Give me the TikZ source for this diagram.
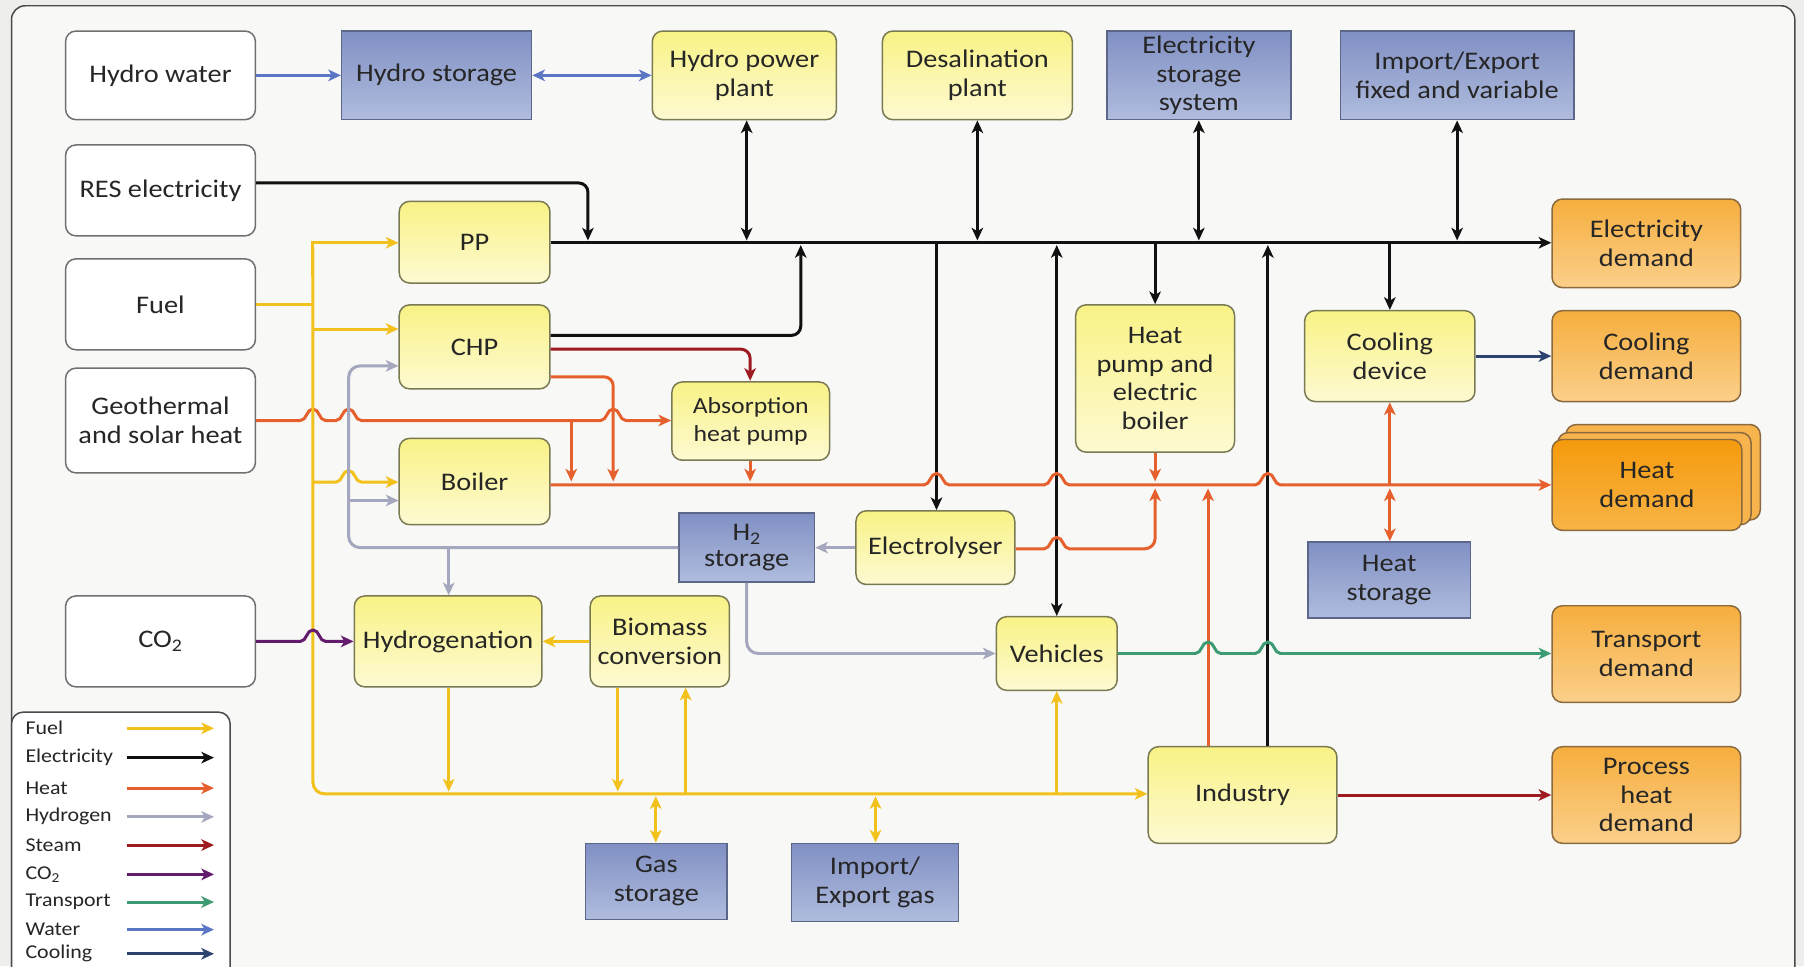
\documentclass[tikz,border=0pt]{standalone}
\usepackage{fontspec}
\setmainfont{Carlito}[FakeStretch=1.12]
\usetikzlibrary{arrows.meta}
\definecolor{outerbg}{HTML}{EEEEEC}
\definecolor{innerbg}{HTML}{F8F8F6}
\definecolor{framec}{HTML}{4A4A4A}
\definecolor{txtc}{HTML}{262626}
\definecolor{wbd}{HTML}{707070}
\definecolor{ybd}{HTML}{7A7A52}
\definecolor{ylA}{HTML}{F9F286}
\definecolor{ylB}{HTML}{FDFAD2}
\definecolor{bbd}{HTML}{5C6688}
\definecolor{blA}{HTML}{8090C3}
\definecolor{blB}{HTML}{B0BCDE}
\definecolor{obd}{HTML}{8A6A3E}
\definecolor{orA}{HTML}{F6AE3E}
\definecolor{orB}{HTML}{FBCF8A}
\definecolor{hdA}{HTML}{F59A0C}
\definecolor{hdB}{HTML}{F8B446}
\definecolor{hdL}{HTML}{F7B44C}
\definecolor{fuelc}{HTML}{F3C11B}
\definecolor{heatc}{HTML}{E5602D}
\definecolor{h2c}{HTML}{A4A7BD}
\definecolor{steamc}{HTML}{9E1A20}
\definecolor{co2c}{HTML}{641B6E}
\definecolor{transc}{HTML}{3C9B72}
\definecolor{waterc}{HTML}{5A76C4}
\definecolor{coolc}{HTML}{2C4370}
\definecolor{elecc}{HTML}{111111}
\newcommand{\hopr}[2]{-- ({#1-11},#2) to[out=0,in=180] ({#1},{#2-10}) to[out=0,in=180] ({#1+11},#2)}
\begin{document}
\begin{tikzpicture}[x=1pt,y=-1pt,
  box/.style={rounded corners=9pt, line width=1.3pt, align=center, inner sep=2pt,
    text=txtc, font=\fontsize{22}{25}\selectfont},
  sz/.style 2 args={minimum width=#1, minimum height=#2},
  wbox/.style={box, draw=wbd, fill=white},
  ybox/.style={box, draw=ybd, top color=ylA, bottom color=ylB},
  bbox/.style={box, sharp corners, draw=bbd, top color=blA, bottom color=blB},
  obox/.style={box, draw=obd, top color=orA, bottom color=orB},
  ln/.style={line width=2.6pt, line join=round},
  fuelL/.style={ln, draw=fuelc},
  elecL/.style={ln, draw=elecc},
  heatL/.style={ln, draw=heatc},
  h2L/.style={ln, draw=h2c},
  steamL/.style={ln, draw=steamc},
  co2L/.style={ln, draw=co2c},
  transL/.style={ln, draw=transc},
  waterL/.style={ln, draw=waterc},
  coolL/.style={ln, draw=coolc},
  arr/.style={-{Stealth[length=11pt,width=10pt,inset=3pt]}},
  darr/.style={{Stealth[length=11pt,width=10pt,inset=3pt]}-{Stealth[length=11pt,width=10pt,inset=3pt]}},
  legtxt/.style={anchor=west, text=txtc, font=\fontsize{17}{19}\selectfont, inner sep=0pt}
]
\useasboundingbox (0,0) rectangle (1568,840);
\fill[outerbg] (0,0) rectangle (1568,840);
\draw[rounded corners=12pt, fill=innerbg, draw=framec, line width=1.3pt] (10,5) rectangle (1560,880);

% ---- nodes ----
\node[wbox, sz={165}{77}] (hydrowater) at (139.5,65.5) {Hydro water};
\node[wbox, sz={165}{79}] (res) at (139.5,165.5) {RES electricity};
\node[wbox, sz={165}{79}] (fuel) at (139.5,264.5) {Fuel};
\node[wbox, sz={165}{91}] (geo) at (139.5,365.5) {Geothermal\\and solar heat};
\node[wbox, sz={165}{79}] (co2) at (139.5,557.5) {CO\textsubscript{2}};

\node[bbox, sz={165}{77}] (hydrostor) at (379.5,65.5) {Hydro storage};
\node[ybox, sz={160}{77}] (hpp) at (647,65.5) {Hydro power\\plant};
\node[ybox, sz={165}{77}] (desal) at (849.5,65.5) {Desalination\\plant};
\node[bbox, sz={160}{77}] (elstor) at (1042,65.5) {Electricity\\storage\\system};
\node[bbox, sz={203}{77}] (impexp) at (1266.5,65.5) {Import/Export\\fixed and variable};

\node[ybox, sz={131}{71}] (pp) at (412.5,210.5) {PP};
\node[ybox, sz={131}{73}] (chp) at (412.5,301.5) {CHP};
\node[ybox, sz={131}{75}] (boiler) at (412.5,418.5) {Boiler};
\node[ybox, sz={137}{68}, font=\fontsize{20}{24}\selectfont] (absorb) at (652.5,366) {Absorption\\heat pump};
\node[ybox, sz={138}{128}] (hpump) at (1004,329) {Heat\\pump and\\electric\\boiler};
\node[ybox, sz={148}{79}] (cooldev) at (1208,309.5) {Cooling\\device};

\node[obox, sz={164}{77}] (eldem) at (1431,211.5) {Electricity\\demand};
\node[obox, sz={164}{79}] (cooldem) at (1431,309.5) {Cooling\\demand};
\draw[rounded corners=9pt, line width=1.3pt, draw=obd, fill=hdL] (1361,369) rectangle (1530,452);
\draw[rounded corners=9pt, line width=1.3pt, draw=obd, fill=hdL] (1354,376) rectangle (1522,456);
\node[box, draw=obd, top color=hdA, bottom color=hdB, sz={165}{79}] (heatdem) at (1431.5,421.5) {Heat\\demand};

\node[bbox, sz={118}{60}, font=\fontsize{22}{22}\selectfont] (h2stor) at (649,476) {H\textsubscript{2}\\storage};
\node[ybox, sz={138}{64}] (electrolyser) at (813,476) {Electrolyser};
\node[bbox, sz={141}{66}] (heatstor) at (1207.5,504) {Heat\\storage};
\node[ybox, sz={163}{79}] (hydrogenation) at (389.5,557.5) {Hydrogenation};
\node[ybox, sz={121}{79}] (biomass) at (573.5,557.5) {Biomass\\conversion};
\node[ybox, sz={105}{64}] (vehicles) at (918.5,568) {Vehicles};
\node[obox, sz={164}{84}] (transdem) at (1431,568.5) {Transport\\demand};
\node[ybox, sz={164}{84}] (industry) at (1080,691) {Industry};
\node[obox, sz={164}{84}] (procdem) at (1431,691) {Process\\heat\\demand};
\node[bbox, sz={123}{66}] (gasstor) at (570.5,766) {Gas\\storage};
\node[bbox, sz={145}{68}] (impgas) at (760.5,767) {Import/\\Export gas};

% ---- water ----
\draw[waterL, arr] (hydrowater.east) -- (hydrostor.west);
\draw[waterL, darr] (hydrostor.east) -- (hpp.west);

% ---- electricity ----
\draw[elecL, arr] (pp.east |- 0,211) -- (eldem.west |- 0,211);
\draw[elecL, arr, rounded corners=8pt] (res.east |- 0,159) -- (511,159) -- (511,209);
\draw[elecL, darr] (hpp.south -| 649,0) -- (649,209);
\draw[elecL, arr, rounded corners=8pt] (chp.east |- 0,291.5) -- (696,291.5) -- (696,213);
\draw[elecL, darr] (desal.south) -- (desal.south |- 0,209);
\draw[elecL, arr] (814,212) -- (electrolyser.north -| 814,0);
\draw[elecL, darr] (918.5,213) -- (vehicles.north);
\draw[elecL, darr] (elstor.south) -- (elstor.south |- 0,209);
\draw[elecL, arr] (1004,212) -- (hpump.north);
\draw[elecL, arr] (industry.north -| 1102,0) -- (1102,213);
\draw[elecL, arr] (1208,212) -- (cooldev.north);
\draw[elecL, darr] (impexp.south) -- (impexp.south |- 0,209);

% ---- heat ----
\draw[heatL, arr] (boiler.east |- 0,421.5) \hopr{814}{421.5} \hopr{918.5}{421.5} \hopr{1102}{421.5} -- (heatdem.west |- 0,421.5);
\draw[heatL, arr] (geo.east) \hopr{272}{365.5} \hopr{303}{365.5} \hopr{533}{365.5} -- (absorb.west |- 0,365.5);
\draw[heatL, arr] (496.5,365.5) -- (496.5,418.5);
\draw[heatL, arr, rounded corners=8pt] (chp.east |- 0,327.5) -- (533,327.5) -- (533,418.5);
\draw[steamL, arr, rounded corners=8pt] (chp.east |- 0,303.5) -- (652,303.5) -- (652,331);
\draw[heatL, arr] (absorb.south -| 652,0) -- (652,418.5);
\draw[heatL, arr] (hpump.south) -- (1004,418.5);
\draw[heatL, arr] (electrolyser.east |- 0,477) \hopr{918.5}{477} -- (995,477) to[out=0,in=-90] (1004,468) -- (1004,424.5);
\draw[heatL, arr] (industry.north -| 1050,0) -- (1050,424.5);
\draw[heatL, arr] (1208,421.5) -- (cooldev.south -| 1208,0);
\draw[heatL, darr] (heatstor.north -| 1208,0) -- (1208,424.5);

% ---- cooling, steam, transport ----
\draw[coolL, arr] (cooldev.east) -- (cooldem.west);
\draw[steamL, arr] (industry.east) -- (procdem.west);
\draw[transL, arr] (vehicles.east) \hopr{1050}{568} \hopr{1102}{568} -- (transdem.west |- 0,568);

% ---- fuel ----
\draw[fuelL] (fuel.east) -- (272,264.5);
\draw[fuelL, arr, line join=miter] (272,240) -- (272,211) -- (pp.west |- 0,211);
\draw[fuelL, arr, rounded corners=10pt] (272,215) -- (272,690) -- (industry.west |- 0,690);
\draw[fuelL, arr] (272,286) -- (chp.west |- 0,286);
\draw[fuelL, arr] (272,419) \hopr{303}{419} -- (boiler.west |- 0,419);
\draw[fuelL, arr] (hydrogenation.south -| 390,0) -- (390,688);
\draw[fuelL, arr] (biomass.south -| 537,0) -- (537,688);
\draw[fuelL, arr] (596,690) -- (biomass.south -| 596,0);
\draw[fuelL, darr] (570,692) -- (gasstor.north -| 570,0);
\draw[fuelL, darr] (761,692) -- (impgas.north -| 761,0);
\draw[fuelL, arr] (918.5,690) -- (vehicles.south);
\draw[fuelL, arr] (biomass.west) -- (hydrogenation.east);

% ---- hydrogen ----
\draw[h2L, arr] (electrolyser.west) -- (h2stor.east);
\draw[h2L, arr, rounded corners=10pt] (h2stor.west) -- (303,476) -- (303,318) -- (chp.west |- 0,318);
\draw[h2L, arr] (303,435) -- (boiler.west |- 0,435);
\draw[h2L, arr] (390,476) -- (hydrogenation.north -| 390,0);
\draw[h2L, arr, rounded corners=10pt] (h2stor.south) -- (649,568) -- (vehicles.west);

% ---- CO2 ----
\draw[co2L, arr] (co2.east) \hopr{272}{557.5} -- (hydrogenation.west);

% ---- legend ----
\draw[rounded corners=10pt, fill=white, draw=framec, line width=1.3pt] (10,619) rectangle (200,880);
\node[legtxt] (lg1) at (22,633) {Fuel};
\node[legtxt] (lg2) at (22,658.5) {Electricity};
\node[legtxt] (lg3) at (22,685) {Heat};
\node[legtxt] (lg4) at (22,710) {Hydrogen};
\node[legtxt] (lg5) at (22,734.5) {Steam};
\node[legtxt] (lg6) at (22,760) {CO\textsubscript{2}};
\node[legtxt] (lg7) at (22,784) {Transport};
\node[legtxt] (lg8) at (22,808) {Water};
\node[legtxt] (lg9) at (22,829) {Cooling};
\draw[fuelL, arr] (lg1 -| 110,0) -- (lg1 -| 186,0);
\draw[elecL, arr] (lg2 -| 110,0) -- (lg2 -| 186,0);
\draw[heatL, arr] (lg3 -| 110,0) -- (lg3 -| 186,0);
\draw[h2L, arr] (lg4 -| 110,0) -- (lg4 -| 186,0);
\draw[steamL, arr] (lg5 -| 110,0) -- (lg5 -| 186,0);
\draw[co2L, arr] (lg6 -| 110,0) -- (lg6 -| 186,0);
\draw[transL, arr] (lg7 -| 110,0) -- (lg7 -| 186,0);
\draw[waterL, arr] (lg8 -| 110,0) -- (lg8 -| 186,0);
\draw[coolL, arr] (lg9 -| 110,0) -- (lg9 -| 186,0);
\end{tikzpicture}
\end{document}
